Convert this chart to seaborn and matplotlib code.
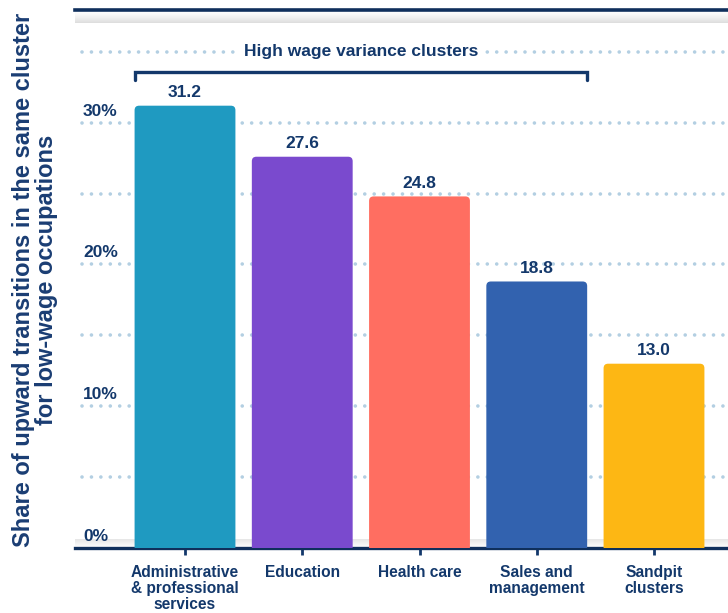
import numpy as np
import pandas as pd
import matplotlib
matplotlib.use("Agg")
import matplotlib.pyplot as plt
from matplotlib.patches import FancyBboxPatch
import seaborn as sns

# Data
categories = ["Administrative\n& professional\nservices", "Education", "Health care",
              "Sales and\nmanagement", "Sandpit\nclusters"]
values = [31.2, 27.6, 24.8, 18.8, 13.0]
bar_colors = ["#1F9AC1", "#7A4ACE", "#FF6E61", "#3262AF", "#FDB714"]
ytick_values = [0, 10, 20, 30]
ytick_labels = ["0%", "10%", "20%", "30%"]
grid_values = [5, 10, 15, 20, 25, 30, 35]
bracket_title = "High wage variance clusters"
ylabel = "Share of upward transitions in the same cluster\nfor low-wage occupations"

NAVY = "#13386b"
GRID = "#b3cfe2"

sns.set_theme(style="white")
plt.rcParams["font.family"] = ["Liberation Sans", "DejaVu Sans"]

W, H = 728, 613
fig = plt.figure(figsize=(W / 100, H / 100), dpi=100)
ax_left, ax_right = 75, 728
ax_top, ax_bottom = 10, 548
ax = fig.add_axes([ax_left / W, 1 - ax_bottom / H, (ax_right - ax_left) / W, (ax_bottom - ax_top) / H])

df = pd.DataFrame({"cat": categories, "val": values})
sns.barplot(data=df, x="cat", y="val", hue="cat", palette=bar_colors, legend=False,
            width=0.86, saturation=1, ax=ax, zorder=3)

px_per_x = 117.25
xmin = -(185 - ax_left) / px_per_x
xmax = xmin + (ax_right - ax_left) / px_per_x
ymax = 37.95
ax.set_xlim(xmin, xmax)
ax.set_ylim(0, ymax)
px_per_y = (ax_bottom - ax_top) / ymax

# Rounded top corners on bars
for p in list(ax.patches):
    x0, w, h = p.get_x(), p.get_width(), p.get_height()
    fc = p.get_facecolor()
    p.remove()
    r = 4.5 / px_per_x
    fb = FancyBboxPatch((x0, -1.0), w, h + 1.0,
                        boxstyle=f"round,pad=0,rounding_size={r}",
                        mutation_aspect=px_per_x / px_per_y,
                        facecolor=fc, edgecolor="none", zorder=3)
    ax.add_patch(fb)

# Dotted gridlines
for g in grid_values:
    ax.plot([xmin + 7 / px_per_x, xmax], [g, g], color=GRID, lw=2.6,
            linestyle=(0, (0.01, 2.6)), dash_capstyle="round", zorder=1)

# Y labels sitting above their gridlines
for v, lab in zip(ytick_values, ytick_labels):
    ax.text(xmin + 8 / px_per_x, v + 4 / px_per_y, lab, color=NAVY, fontsize=12.5,
            fontweight="bold", ha="left", va="bottom", zorder=4)

# Value labels
for i, v in enumerate(values):
    ax.annotate(f"{v:.1f}", (i, v), xytext=(0, 4), textcoords="offset points",
                ha="center", va="bottom", color=NAVY, fontsize=12.5, fontweight="bold")

# Bracket over the high wage variance clusters
bl, br = -0.43, 3.43
by_top, by_bot = 33.6, 33.0
ax.plot([bl, bl, br, br], [by_bot, by_top, by_top, by_bot], color=NAVY, lw=2.4,
        solid_joinstyle="miter", zorder=4)
ax.text(1.5, 35, bracket_title, ha="center", va="center", color=NAVY, fontsize=12.5,
        fontweight="bold", zorder=4,
        bbox=dict(facecolor="white", edgecolor="none", pad=4))

# Soft shadows under the top rule and above the baseline
grad = np.linspace(0, 1, 64).reshape(-1, 1)
ax.imshow(np.dstack([np.full_like(grad, 0.55)] * 3 + [0.3 * grad ** 1.5]),
          extent=(xmin, xmax, ymax - 13 / px_per_y, ymax), aspect="auto", zorder=0.5,
          interpolation="bilinear")
ax.imshow(np.dstack([np.full_like(grad, 0.6)] * 3 + [0.25 * grad[::-1]]),
          extent=(xmin, xmax, 0, 9 / px_per_y), aspect="auto", zorder=0.5,
          interpolation="bilinear")
ax.set_xlim(xmin, xmax)
ax.set_ylim(0, ymax)

# Axes styling
for s in ["left", "right"]:
    ax.spines[s].set_visible(False)
ax.spines["top"].set_color("#0f2f5c")
ax.spines["top"].set_linewidth(2.6)
ax.spines["bottom"].set_color("#0f2f5c")
ax.spines["bottom"].set_linewidth(2.4)
ax.set_yticks([])
ax.set_xlabel("")
ax.set_ylabel("")
ax.tick_params(axis="x", length=5, width=2, color=NAVY, direction="out", pad=7,
               labelsize=11.2, labelcolor=NAVY, bottom=True)
for t in ax.get_xticklabels():
    t.set_fontweight("bold")
    t.set_linespacing(1.1)
    t.set_multialignment("center")

fig.text(35 / W, 1 - 280 / H, ylabel, rotation=90, ha="center", va="center",
         color="#1a3d73", fontsize=17, fontweight="bold", multialignment="center",
         linespacing=0.95)

fig.savefig("out.png", dpi=100)
